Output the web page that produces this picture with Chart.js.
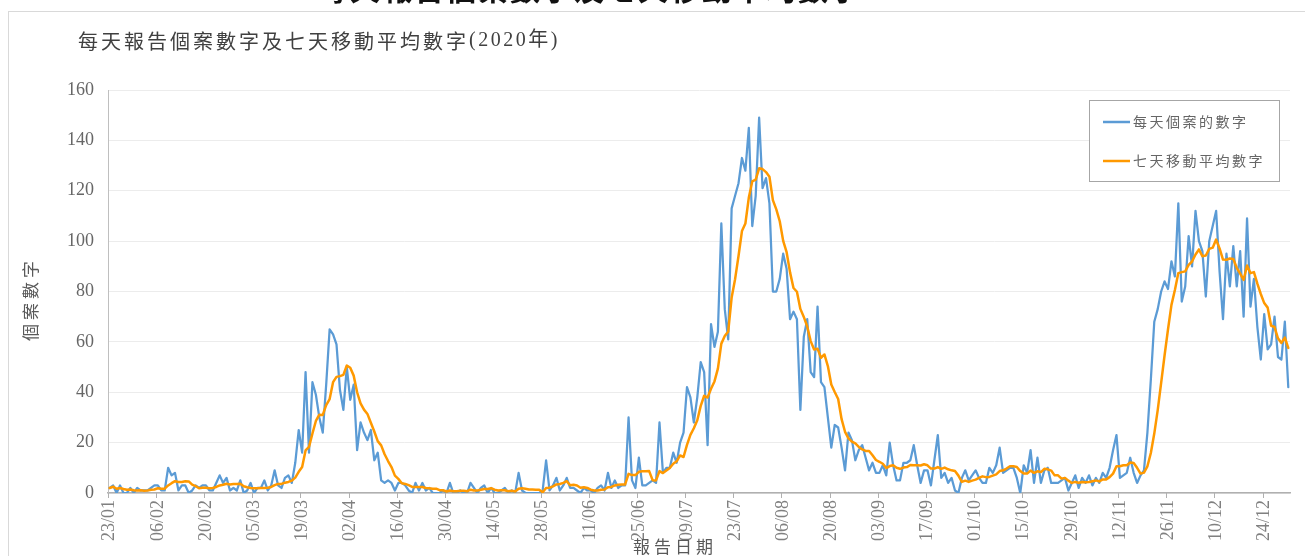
<!DOCTYPE html>
<html lang="zh-Hant">
<head>
<meta charset="utf-8">
<title>每天報告個案數字及七天移動平均數字(2020年)</title>
<script src="https://cdn.jsdelivr.net/npm/chart.js@4.4.1/dist/chart.umd.min.js"></script>
<style>
  html, body { margin: 0; padding: 0; background: #fff; }
  #wrap { position: relative; width: 1305px; height: 556px; overflow: hidden; }
  #frame { position: absolute; left: 8px; top: 11px; width: 1400px; height: 700px; border: 1px solid #d9d9d9; }
  #chart { position: absolute; left: 0; top: 0; }
</style>
</head>
<body>
<div id="wrap">
  <div id="frame"></div>
  <canvas id="chart" width="1305" height="556"></canvas>
</div>
<script>
// daily reported cases, 23/01/2020 - 31/12/2020 (one row per month)
const dailyCases = [
  2,3,0,3,0,0,2,0,2,
  1,1,1,2,3,3,1,1,10,7,8,1,3,3,0,1,3,2,3,3,1,1,4,7,4,6,1,2,1,
  5,0,1,4,0,2,2,5,1,3,9,3,2,6,7,4,12,25,16,48,16,44,39,30,24,43,65,63,59,41,33,
  50,37,43,17,28,24,21,25,13,16,5,4,5,4,1,4,4,3,1,0,4,1,4,1,2,0,0,0,1,0,
  4,0,0,1,0,0,4,2,0,2,3,0,2,0,0,1,2,0,1,0,8,1,0,0,0,0,0,1,13,1,3,
  6,1,3,6,2,2,1,0,2,1,1,0,2,3,1,8,2,5,2,3,3,30,5,2,14,3,3,4,5,4,
  28,8,10,10,16,12,20,24,42,38,28,38,52,48,19,67,58,64,107,73,61,113,118,123,133,128,145,106,118,149,121,
  125,115,80,80,85,95,89,69,72,69,33,62,69,48,46,74,44,42,30,18,27,26,18,9,24,21,13,17,19,14,9,
  12,8,8,11,7,20,11,5,5,12,12,13,19,11,4,9,9,3,13,23,6,8,4,6,1,0,6,9,5,7,
  9,6,4,4,10,8,11,18,8,9,10,10,6,0,11,8,17,4,14,4,9,10,4,4,4,5,6,1,4,7,2,
  6,4,7,3,6,4,8,6,10,17,23,6,7,8,14,8,4,7,9,24,45,68,73,80,84,81,92,86,115,76,
  82,102,90,112,100,96,78,100,106,112,88,69,95,82,98,82,96,70,109,74,85,66,53,71,57,59,70,54,53,68,42
];

// seven-day moving average, same days
const sevenDayAverage = [
  2.0,2.5,1.7,2.0,1.6,1.3,1.4,1.1,1.0,
  1.1,0.9,1.0,1.3,1.4,1.9,1.7,1.7,3.0,3.9,4.7,4.4,4.4,4.7,4.6,3.3,2.7,1.9,2.1,2.1,1.9,2.0,2.4,3.0,3.3,3.7,3.4,3.6,3.6,
  3.7,2.7,2.3,2.0,1.9,1.9,2.0,2.0,2.1,2.4,3.1,3.6,3.6,4.1,4.4,4.9,6.1,8.4,10.3,16.9,18.3,23.6,28.6,31.1,31.0,34.9,37.3,44.0,46.1,46.4,46.9,
  50.6,49.7,46.6,40.0,35.6,33.1,31.4,27.9,24.4,20.6,18.9,15.4,12.7,10.3,6.9,5.6,3.9,3.6,3.1,2.4,2.4,2.4,2.4,2.0,1.9,1.7,1.7,1.1,1.1,0.6,
  1.0,0.7,0.7,0.9,0.9,0.7,1.3,1.0,1.0,1.3,1.6,1.6,1.9,1.3,1.0,1.1,1.1,0.7,0.9,0.6,1.7,1.9,1.7,1.4,1.4,1.3,1.3,0.3,2.0,2.1,2.6,
  3.4,3.6,4.0,4.7,3.1,3.3,3.0,2.1,2.3,2.0,1.3,1.0,1.0,1.3,1.4,2.3,2.4,3.0,3.3,3.4,3.4,7.6,7.1,7.1,8.4,8.6,8.6,8.7,5.1,5.0,
  8.7,7.9,8.9,9.9,11.6,12.6,14.9,14.3,19.1,23.1,25.7,28.9,34.6,38.6,37.9,41.4,44.3,49.4,59.3,62.3,64.1,77.6,84.9,94.1,104.0,107.0,117.3,123.7,124.4,128.9,128.6,
  127.4,125.6,116.3,112.6,107.9,100.1,95.6,87.6,81.4,79.9,73.1,69.9,66.1,60.3,57.0,57.3,53.7,55.0,50.4,43.1,40.1,37.3,29.3,24.3,21.7,20.4,19.7,18.3,17.3,16.7,16.7,
  15.0,13.1,12.4,11.6,9.9,10.7,11.0,10.0,9.6,10.1,10.3,11.1,11.0,11.0,10.9,11.4,11.0,9.7,9.7,10.3,9.6,10.1,9.4,9.0,8.7,6.9,4.4,4.9,4.4,4.9,
  5.3,6.0,6.6,6.3,6.4,6.9,7.4,8.7,9.0,9.7,10.6,10.6,10.3,8.7,7.7,7.7,8.9,8.0,8.6,8.3,9.6,9.4,8.9,7.0,7.0,5.7,6.0,4.9,4.0,4.4,4.1,
  4.4,4.3,4.4,4.7,5.0,4.6,5.4,5.4,6.3,7.7,10.6,10.6,11.0,11.0,12.1,11.9,10.0,7.7,8.1,10.6,15.9,23.6,32.9,43.7,54.7,65.0,74.7,80.6,87.3,87.7,
  88.0,90.6,91.9,94.7,96.7,94.0,94.3,96.9,97.4,100.6,97.1,92.7,92.6,93.1,92.9,89.4,87.1,84.6,90.3,87.3,87.7,83.1,79.0,75.4,73.6,66.4,65.9,61.4,59.6,61.7,57.6
];

const firstDay = Date.UTC(2020, 0, 23);
const labelEvery = 14;
const yTickMin = 0, yTickMax = 160, yTickStep = 20;

const seriesNames = ["每天個案的數字", "七天移動平均數字"];
const seriesColors = ["#5b9bd5", "#ff9900"];
const titleMain = "每天報告個案數字及七天移動平均數字";
const titleYear = "(2020年)";
const pageHeading = "每天報告個案數字及七天移動平均數字";
const xAxisTitle = "報告日期";
const yAxisTitle = "個案數字";

function two(n) { return (n < 10 ? "0" : "") + n; }
const dayLabels = dailyCases.map((_, i) => {
  const d = new Date(firstDay + i * 86400000);
  return two(d.getUTCDate()) + "/" + two(d.getUTCMonth() + 1);
});

const CJK = '"Noto Sans CJK TC", "Noto Sans CJK SC", sans-serif';
const SERIF = '"Liberation Serif", "DejaVu Serif", ' + CJK;

// titles, axis titles, date tick marks and legend box
const decor = {
  id: "decor",
  afterDraw(chart) {
    const ctx = chart.ctx;
    const xs = chart.scales.x;
    ctx.save();

    // tick marks under the dated labels, on the left edge of each day
    const half = (xs.getPixelForValue(1) - xs.getPixelForValue(0)) / 2;
    ctx.strokeStyle = "#b0b0b0";
    ctx.lineWidth = 1;
    ctx.beginPath();
    for (let i = 0; i < dayLabels.length; i += labelEvery) {
      const x = Math.round(xs.getPixelForValue(i) - half) + 0.5;
      ctx.moveTo(x, xs.top);
      ctx.lineTo(x, xs.top + 5);
    }
    ctx.stroke();

    // big page heading, cut by the top edge
    ctx.font = "bold 30px " + CJK;
    ctx.fillStyle = "#111";
    ctx.textAlign = "center";
    ctx.textBaseline = "ideographic";
    ctx.letterSpacing = "2px";
    ctx.fillText(pageHeading, 590, 4);

    // chart title
    ctx.font = "20px " + CJK;
    ctx.fillStyle = "#404040";
    ctx.textAlign = "left";
    ctx.textBaseline = "middle";
    ctx.letterSpacing = "3px";
    ctx.fillText(titleMain, 78, 41);
    const w = ctx.measureText(titleMain).width;
    ctx.letterSpacing = "2.5px";
    ctx.font = "20px " + SERIF;
    ctx.fillText(titleYear, 78 + w, 41);

    // axis titles
    ctx.font = "17px " + CJK;
    ctx.fillStyle = "#595959";
    ctx.letterSpacing = "4px";
    ctx.textAlign = "center";
    ctx.fillText(xAxisTitle, 675, 547);
    ctx.save();
    ctx.translate(31, 299);
    ctx.rotate(-Math.PI / 2);
    ctx.fillText(yAxisTitle, 0, 0);
    ctx.restore();

    // legend
    ctx.letterSpacing = "2.5px";
    ctx.fillStyle = "#fff";
    ctx.fillRect(1089.5, 100.5, 190, 81);
    ctx.strokeStyle = "#a6a6a6";
    ctx.lineWidth = 1;
    ctx.strokeRect(1089.5, 100.5, 190, 81);
    ctx.font = "14px " + CJK;
    ctx.textAlign = "left";
    chart.data.datasets.forEach((ds, i) => {
      const y = 122 + i * 39;
      ctx.strokeStyle = ds.borderColor;
      ctx.lineWidth = 2.5;
      ctx.beginPath();
      ctx.moveTo(1103, y);
      ctx.lineTo(1130, y);
      ctx.stroke();
      ctx.fillStyle = "#666";
      ctx.fillText(ds.label, 1133, y);
    });
    ctx.restore();
  }
};

new Chart(document.getElementById("chart"), {
  type: "line",
  data: {
    labels: dayLabels,
    datasets: [
      {
        label: seriesNames[0],
        data: dailyCases,
        borderColor: seriesColors[0],
        backgroundColor: seriesColors[0],
        borderWidth: 2.25,
        borderJoinStyle: "round",
        borderCapStyle: "round",
        pointRadius: 0,
        tension: 0,
        order: 2
      },
      {
        label: seriesNames[1],
        data: sevenDayAverage,
        borderColor: seriesColors[1],
        backgroundColor: seriesColors[1],
        borderWidth: 2.5,
        borderJoinStyle: "round",
        borderCapStyle: "round",
        pointRadius: 0,
        tension: 0,
        order: 1
      }
    ]
  },
  options: {
    responsive: false,
    animation: false,
    devicePixelRatio: 1,
    events: [],
    layout: { padding: { left: 0, right: 15, top: 90, bottom: 0 } },
    plugins: {
      legend: { display: false },
      title: { display: false },
      tooltip: { enabled: false }
    },
    scales: {
      x: {
        type: "category",
        offset: true,
        afterFit(scale) { scale.height = 63; },
        border: { display: true, color: "#b0b0b0", width: 1.5 },
        grid: { display: false, drawTicks: false },
        ticks: {
          autoSkip: false,
          minRotation: 90,
          maxRotation: 90,
          padding: 7,
          color: "#808080",
          font: { family: SERIF, size: 18 },
          callback: (v, i) => (i % labelEvery === 0 ? dayLabels[i] : null)
        }
      },
      y: {
        min: yTickMin,
        max: yTickMax,
        afterFit(scale) { scale.width = 108; },
        border: { display: true, color: "#bfbfbf", width: 1 },
        grid: { color: "#ececec", drawTicks: false },
        ticks: {
          stepSize: yTickStep,
          padding: 14,
          color: "#666",
          font: { family: SERIF, size: 18 }
        }
      }
    }
  },
  plugins: [decor]
});
</script>
</body>
</html>
